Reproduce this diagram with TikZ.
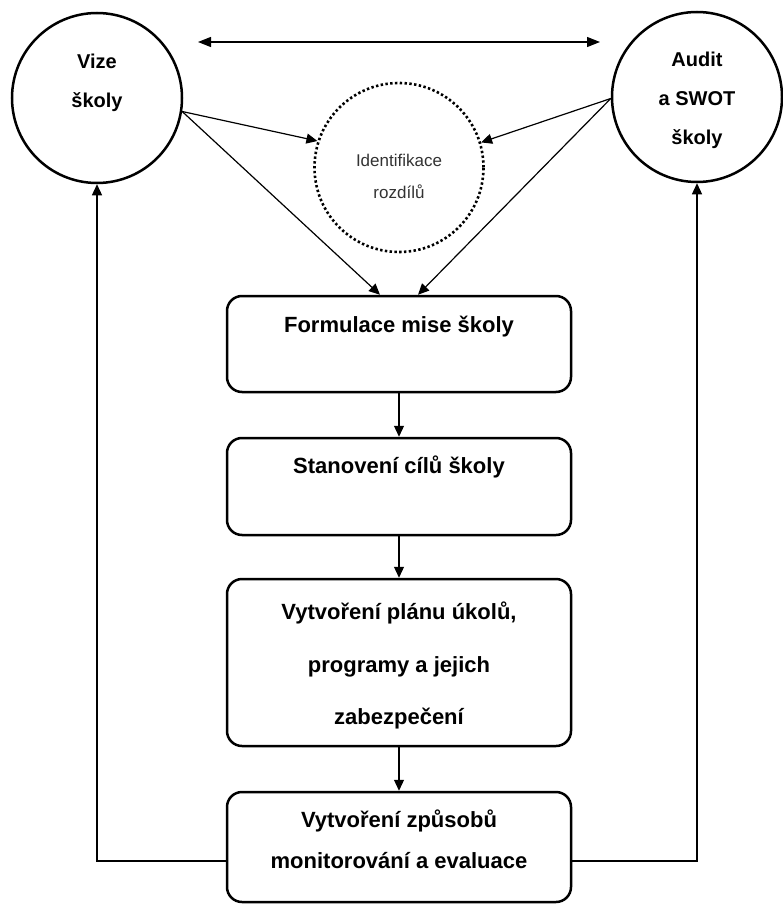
\documentclass[tikz,border=0pt]{standalone}
\usepackage{fontspec}
\setmainfont{Liberation Sans}
\usetikzlibrary{arrows.meta,positioning}

\begin{document}
\begin{tikzpicture}[x=1pt,y=-1pt,
  goal/.style={draw,circle,line width=2.5pt,minimum size=170pt,inner sep=0pt},
  gap/.style={draw,circle,line width=2.6pt,dash pattern=on 2.4pt off 2.4pt,minimum size=169pt,inner sep=0pt},
  stage/.style={draw,rounded corners=15pt,line width=2.5pt,minimum width=344pt,inner sep=0pt},
  goaltext/.style={font=\bfseries\fontsize{20}{39}\selectfont,align=center},
  stagetext/.style={font=\bfseries\fontsize{22}{52.5}\selectfont,align=center},
  link/.style={line width=1.2pt,-{Triangle[length=11pt,width=10pt]}},
  both/.style={line width=1.2pt,{Triangle[length=13pt,width=10pt]}-{Triangle[length=13pt,width=10pt]}}]
  \useasboundingbox (0,0) rectangle (783,904);
  % circles on top
  \node[goal] (vize) at (97,98) {};
  \node[goaltext] (vize-t) at (97,82.4) {Vize\\školy};
  \node[goal] (audit) at (697,97) {};
  \node[goaltext] (audit-t) at (697,100.8) {Audit\\a SWOT\\školy};
  \node[gap] (rozdil) at (399,167.5) {};
  \node[font=\fontsize{17}{32}\selectfont,text=black!80,align=center] (rozdil-t) at (399,176.8) {Identifikace\\rozdílů};
  \coordinate (ends-l) at (198,42);
  \coordinate (ends-r) at (600,42);
  \draw[both] (ends-l) -- (ends-r);
  % planning stages
  \node[stage,minimum height=96pt] (mise) at (399,344) {};
  \node[stagetext,anchor=base] (mise-t) at (399,332) {Formulace mise školy};
  \node[stage,minimum height=97pt] (cile) at (399,486.5) {};
  \node[stagetext,anchor=base] (cile-t) at (399,473) {Stanovení cílů školy};
  \node[stage,minimum height=167pt] (plan) at (399,662.5) {};
  \node[stagetext] (plan-t) at (399,665.5) {Vytvoření plánu úkolů,\\programy a jejich\\zabezpečení};
  \node[stage,minimum height=110pt] (monitor) at (399,847) {};
  \node[stagetext,font=\bfseries\fontsize{22}{41}\selectfont] (monitor-t) at (399,839) {Vytvoření způsobů\\monitorování a evaluace};
  % connectors
  \draw[link] (vize.-9) -- (rozdil.162);
  \draw[link] (audit.181) -- (rozdil.17);
  \draw[link] (vize.-9) -- ([xshift=-19pt]mise.north);
  \draw[link] (audit.181) -- ([xshift=19pt]mise.north);
  \foreach \a/\b in {mise/cile,cile/plan,plan/monitor}
    \draw[link] (\a) -- (\b);
  \draw[link] ([yshift=-14pt]monitor.west) -| (vize.south);
  \draw[link] ([yshift=-14pt]monitor.east) -| (audit.south);
\end{tikzpicture}
\end{document}
